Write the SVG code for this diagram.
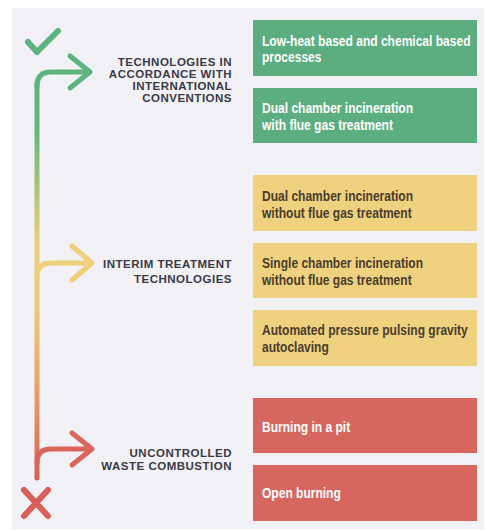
<svg xmlns="http://www.w3.org/2000/svg" width="486" height="532" viewBox="0 0 486 532">
<defs>
<linearGradient id="lineGrad" gradientUnits="userSpaceOnUse" x1="0" y1="72" x2="0" y2="478">
<stop offset="0" stop-color="#5db47f"/>
<stop offset="0.14" stop-color="#66b57d"/>
<stop offset="0.42" stop-color="#ebcf78"/>
<stop offset="0.58" stop-color="#eccb76"/>
<stop offset="0.8" stop-color="#e89a6a"/>
<stop offset="1" stop-color="#d9605a"/>
</linearGradient>
<style>
.lbl{font-family:"Liberation Sans",Arial,sans-serif;font-weight:bold;font-size:11.5px;letter-spacing:0.5px;fill:#3a3a46;text-anchor:end}
.bt{font-family:"Liberation Sans",Arial,sans-serif;font-weight:bold;font-size:14.5px}
.w{fill:#ffffff}
.d{fill:#4a3d2c}
.g{fill:#5cad80}
.y{fill:#efd17f}
.r{fill:#d5675f}
.br{fill:none;stroke-width:5;stroke-linecap:round;stroke-linejoin:round}
</style>
</defs>
<rect x="0" y="0" width="486" height="532" fill="#ffffff"/>
<rect x="12" y="8" width="472" height="521" fill="#f1f1f6"/>
<g id="connectors">
<path class="br" stroke="url(#lineGrad)" d="M37,478 L37,84"/>
<path class="br" stroke="#5db47f" d="M37,86 Q37,72 51,72 L90,72 M70,56 L90,72 L70,88"/>
<path class="br" stroke="#efcf78" d="M37,277 Q37,263 51,263 L92,263 M72,246 L92,263 L72,280"/>
<path class="br" stroke="#d9655c" d="M37,463 Q37,449 51,449 L92,449 M72,433 L92,449 L72,465"/>
</g>
<g id="check"><path d="M28,42 L37,52 L58,31" fill="none" stroke="#5db47f" stroke-width="6" stroke-linecap="round" stroke-linejoin="round"/></g>
<g id="cross"><path d="M24,490 L48,516 M48,490 L24,516" fill="none" stroke="#d9605a" stroke-width="6" stroke-linecap="round"/></g>
<g id="label-intl"><text class="lbl"><tspan x="232" y="66">TECHNOLOGIES IN</tspan><tspan x="232" y="78">ACCORDANCE WITH</tspan><tspan x="232" y="90">INTERNATIONAL</tspan><tspan x="232" y="102">CONVENTIONS</tspan></text></g>
<g id="label-interim"><text class="lbl"><tspan x="232" y="268">INTERIM TREATMENT</tspan><tspan x="232" y="283">TECHNOLOGIES</tspan></text></g>
<g id="label-uncontrolled"><text class="lbl"><tspan x="232" y="457">UNCONTROLLED</tspan><tspan x="232" y="470">WASTE COMBUSTION</tspan></text></g>
<g id="box1"><rect class="g" x="253" y="20" width="224" height="56"/><text class="bt w" transform="translate(262,0) scale(0.83,1)"><tspan x="0" y="46">Low-heat based and chemical based</tspan><tspan x="0" y="62">processes</tspan></text></g>
<g id="box2"><rect class="g" x="253" y="88" width="224" height="55"/><text class="bt w" transform="translate(262,0) scale(0.83,1)"><tspan x="0" y="113">Dual chamber incineration</tspan><tspan x="0" y="130">with flue gas treatment</tspan></text></g>
<g id="box3"><rect class="y" x="253" y="175" width="224" height="56"/><text class="bt d" transform="translate(262,0) scale(0.83,1)"><tspan x="0" y="201">Dual chamber incineration</tspan><tspan x="0" y="218">without flue gas treatment</tspan></text></g>
<g id="box4"><rect class="y" x="253" y="243" width="224" height="55"/><text class="bt d" transform="translate(262,0) scale(0.83,1)"><tspan x="0" y="268">Single chamber incineration</tspan><tspan x="0" y="285">without flue gas treatment</tspan></text></g>
<g id="box5"><rect class="y" x="253" y="310" width="224" height="56"/><text class="bt d" transform="translate(262,0) scale(0.83,1)"><tspan x="0" y="335">Automated pressure pulsing gravity</tspan><tspan x="0" y="352">autoclaving</tspan></text></g>
<g id="box6"><rect class="r" x="253" y="398" width="224" height="55"/><text class="bt w" transform="translate(262,0) scale(0.83,1)"><tspan x="0" y="432">Burning in a pit</tspan></text></g>
<g id="box7"><rect class="r" x="253" y="465" width="224" height="56"/><text class="bt w" transform="translate(262,0) scale(0.83,1)"><tspan x="0" y="498">Open burning</tspan></text></g>
</svg>
